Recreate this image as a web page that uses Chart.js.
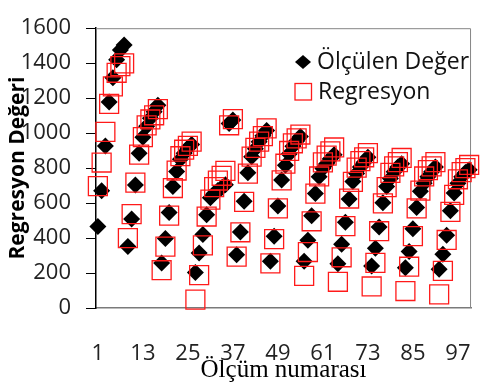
<!DOCTYPE html>
<html>
<head>
<meta charset="utf-8">
<script src="https://cdn.jsdelivr.net/npm/chart.js@4.4.0/dist/chart.umd.min.js"></script>
<style>
  html, body { margin: 0; padding: 0; background: #fff; }
  #wrap { width: 496px; height: 385px; position: relative; }
</style>
</head>
<body>
<div id="wrap"><canvas id="chart"></canvas></div>
<script>
// Ölçülen değerler (100 ölçüm)
const measured = [
  466, 671, 927, 1178, 1317, 1420, 1476, 1504,
  351, 509, 704, 885, 977, 1040, 1085, 1122, 1160,
  258, 398, 546, 695, 780, 850, 885, 915, 935,
  203, 315, 420, 533, 630, 655, 672, 688, 705,
  1055, 1075,
  305, 435, 611, 773, 865, 910, 950, 985, 1015,
  268, 410, 583, 732, 816, 880, 925, 955, 980,
  268, 388, 528, 655, 751, 797, 825, 853, 877,
  253, 364, 491, 624, 723, 769, 806, 834, 862,
  240, 342, 463, 602, 695, 741, 779, 806, 825,
  230, 323, 453, 574, 667, 714, 751, 779, 806,
  221, 308, 416, 556, 658, 714, 751, 775, 790
]
// Regresyon sonuçları
const regression = [
  697, 832, 1007, 1167, 1267, 1345, 1383, 1399,
  400, 537, 717, 877, 977, 1044, 1078, 1102, 1137,
  216, 351, 528, 686, 786, 868, 905, 927, 951,
  48, 188, 358, 523, 620, 691, 729, 756, 784,
  1045, 1080,
  294, 433, 607, 768, 866, 916, 951, 983, 1027,
  255, 394, 570, 730, 825, 898, 942, 970, 992,
  184, 320, 496, 654, 752, 833, 871, 896, 918,
  150, 290, 468, 626, 721, 803, 840, 862, 886,
  123, 258, 439, 598, 691, 773, 810, 834, 858,
  97, 236, 411, 570, 671, 752, 788, 810, 834,
  78, 212, 389, 550, 647, 736, 777, 800, 818
]
const xTickLabels = [1, 13, 25, 37, 49, 61, 73, 85, 97]
const yMin = 0
const yMax = 1600
const yStep = 200

const seriesNames = ['Ölçülen Değer', 'Regresyon']
const xTitle = 'Ölçüm numarası'
const yTitle = 'Regresyon Değeri'

const toPoints = arr => arr.map((v, i) => ({ x: i + 1, y: v }))

const FONT = '"Open Sans", "Noto Sans", sans-serif'
const RED = '#ff1a1a'

// axis titles, plot frame and the legend inside the plot
const decor = {
  id: 'decor',
  beforeDatasetsDraw(chart) {
    const { ctx, chartArea: a } = chart
    ctx.save()
    ctx.strokeStyle = '#868686'
    ctx.lineWidth = 1
    ctx.beginPath()
    ctx.moveTo(a.left, a.top + 0.5)
    ctx.lineTo(a.right - 0.5, a.top + 0.5)
    ctx.lineTo(a.right - 0.5, a.bottom)
    ctx.stroke()
    ctx.restore()
  },
  afterDraw(chart) {
    const { ctx, chartArea: a } = chart
    ctx.save()
    // y title
    ctx.translate(18, (a.top + a.bottom) / 2)
    ctx.rotate(-Math.PI / 2)
    ctx.fillStyle = '#000'
    ctx.font = 'bold 21px ' + FONT
    ctx.textAlign = 'center'
    ctx.textBaseline = 'middle'
    ctx.fillText(yTitle, 0, 0)
    ctx.restore()

    // x title
    ctx.save()
    ctx.fillStyle = '#000'
    ctx.font = '25px "Liberation Serif", "DejaVu Serif", serif'
    ctx.textAlign = 'center'
    ctx.textBaseline = 'middle'
    ctx.fillText(xTitle, (a.left + a.right) / 2, 370)
    ctx.restore()

    // legend
    ctx.save()
    ctx.fillStyle = '#000'
    ctx.beginPath()
    ctx.moveTo(295, 62); ctx.lineTo(303, 55); ctx.lineTo(311, 62); ctx.lineTo(303, 69)
    ctx.closePath()
    ctx.fill()
    ctx.strokeStyle = RED
    ctx.lineWidth = 1.3
    ctx.strokeRect(295, 83.5, 16.5, 16.5)
    ctx.font = '23px ' + FONT
    ctx.textBaseline = 'middle'
    ctx.fillStyle = '#111'
    ctx.fillText(seriesNames[0], 317, 62)
    ctx.fillText(seriesNames[1], 318, 92)
    ctx.restore()
  }
}

new Chart(document.getElementById('chart'), {
  type: 'scatter',
  data: {
    datasets: [
      {
        label: seriesNames[1],
        data: toPoints(regression),
        pointStyle: 'rect',
        pointRadius: 13.4,
        pointHoverRadius: 13.4,
        backgroundColor: 'rgba(0,0,0,0)',
        borderColor: RED,
        pointBorderWidth: 1.3,
        order: 0,
      },
      {
        label: seriesNames[0],
        data: toPoints(measured),
        pointStyle: 'rectRot',
        pointRadius: 8.5,
        pointHoverRadius: 8.5,
        backgroundColor: '#000',
        borderColor: '#000',
        pointBorderWidth: 0,
        order: 1,
      },
    ],
  },
  options: {
    responsive: true,
    maintainAspectRatio: false,
    animation: false,
    events: [],
    clip: false,
    layout: { padding: { top: 15, right: 2, left: 0, bottom: 0 } },
    plugins: {
      legend: { display: false },
      tooltip: { enabled: false },
    },
    scales: {
      x: {
        type: 'linear',
        min: 0.5,
        max: 100.5,
        afterBuildTicks: scale => {
          scale.ticks = xTickLabels.map(v => ({ value: v }))
        },
        afterFit: scale => { scale.height = 77 },
        grid: { display: false },
        border: { display: true, color: '#7a7a7a', width: 1.5 },
        ticks: {
          padding: 25,
          autoSkip: false,
          maxRotation: 0,
          color: '#222',
          font: { family: FONT, size: 22 },
          callback: v => String(v),
        },
      },
      y: {
        min: yMin,
        max: yMax,
        afterFit: scale => { scale.width = 96 },
        grid: {
          drawOnChartArea: false,
          drawTicks: true,
          tickLength: 10,
          color: '#000',
        },
        border: { display: true, color: '#000', width: 1.5 },
        ticks: {
          stepSize: yStep,
          padding: 15,
          color: '#222',
          font: { family: FONT, size: 22 },
          callback: v => String(v),
        },
      },
    },
  },
  plugins: [decor],
})
</script>
</body>
</html>
